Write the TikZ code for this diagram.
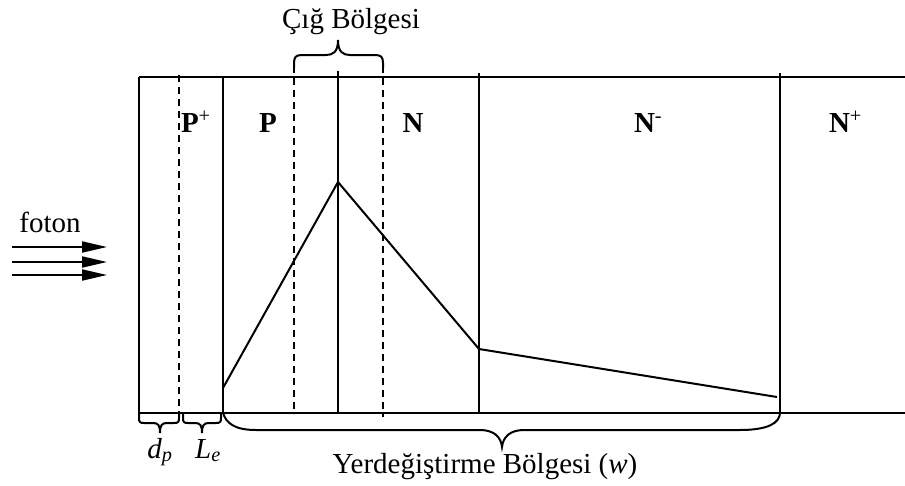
\documentclass[tikz,border=0pt]{standalone}
\usepackage{fontspec}
\setmainfont{Liberation Serif}
\usetikzlibrary{arrows.meta}
\begin{document}
\begin{tikzpicture}[x=1pt,y=-1pt,
  line width=2pt,
  dsh/.style={dash pattern=on 7pt off 5pt},
  lbl/.style={inner sep=0pt,font=\fontsize{29}{34}\selectfont},
  blbl/.style={inner sep=0pt,font=\fontsize{29}{34}\selectfont\bfseries},
  photon/.style={-{Triangle[length=25pt,width=11pt]}},
  brc/.style={line width=2pt}]
\useasboundingbox (0,0) rectangle (905,485);
% frame lines
\coordinate (tl) at (139,77);
\coordinate (tr) at (905,77);
\coordinate (bl) at (139,412.5);
\coordinate (br) at (905,412.5);
\draw (tl) -- (tr);
\draw (bl) -- (br);
\draw (tl) -- (bl);
% layer boundaries
\draw[dsh] (179,75) -- (179,412.5);
\draw (223,77) -- (223,412.5);
\draw[dsh] (294,66) -- (294,414);
\draw (338,71) -- (338,412.5);
\draw[dsh] (383,66) -- (383,417);
\draw (479,73) -- (479,412.5);
\draw (780,73) -- (780,412.5);
% labels
\node[blbl,anchor=base west] (pp) at (180,132) {P\textsuperscript{\mdseries+}};
\node[blbl,anchor=base] (p) at (268,132) {P};
\node[blbl,anchor=base] (n) at (413,132) {N};
\node[blbl,anchor=base west] (nm) at (633,132) {N\textsuperscript{\mdseries -}};
\node[blbl,anchor=base west] (np) at (828,132) {N\textsuperscript{\mdseries+}};
% field profile
\coordinate (f0) at (223,388);
\coordinate (f1) at (338,182);
\coordinate (f2) at (479,349);
\coordinate (f3) at (777,397);
\draw[line join=miter] (f0) -- (f1) -- (f2) -- (f3);
% top brace (avalanche region)
\draw[brc] (294,68) -- (294,63) .. controls (294,57) and (296,55) .. (302,55) -- (326,55)
  .. controls (333,55) and (338,52) .. (338,40)
  .. controls (338,52) and (343,55) .. (350,55) -- (375,55)
  .. controls (381,55) and (383,57) .. (383,63) -- (383,68);
\node[lbl,anchor=base] (cig) at (351,28) {Çığ Bölgesi};
% photon arrows
\node[lbl,anchor=base] (foton) at (50,232) {foton};
\coordinate (a1s) at (12,247); \coordinate (a1e) at (107,247);
\coordinate (a2s) at (12,262); \coordinate (a2e) at (107,262);
\coordinate (a3s) at (12,275); \coordinate (a3e) at (107,275);
\draw[photon] (a1s) -- (a1e);
\draw[photon] (a2s) -- (a2e);
\draw[photon] (a3s) -- (a3e);
% bottom small braces
\draw[brc] (139,413) -- (139,418) .. controls (139,422) and (140,423) .. (144,423) -- (153,423)
  .. controls (158,423) and (160,425) .. (160,433)
  .. controls (160,425) and (162,423) .. (167,423) -- (174,423)
  .. controls (178,423) and (179,422) .. (179,418) -- (179,413);
\draw[brc] (183,413) -- (183,418) .. controls (183,422) and (184,423) .. (188,423) -- (195,423)
  .. controls (200,423) and (202,425) .. (202,433)
  .. controls (202,425) and (204,423) .. (209,423) -- (216,423)
  .. controls (220,423) and (221,422) .. (221,418) -- (221,413);
\node[lbl,anchor=base,font=\fontsize{29}{34}\selectfont\itshape] (dp) at (160,458) {d\textsubscript{p}};
\node[lbl,anchor=base,font=\fontsize{29}{34}\selectfont\itshape] (le) at (208,458) {L\textsubscript{e}};
% big brace
\draw[brc] (223,412.5) .. controls (226,424) and (236,430) .. (256,430) -- (480,430)
  .. controls (494,430) and (501,437) .. (502,447)
  .. controls (503,437) and (510,430) .. (524,430) -- (740,430)
  .. controls (768,430) and (780,423) .. (780,412.5);
\node[lbl,anchor=base] (yb) at (485,473) {Yerdeğiştirme Bölgesi (\textit{w})};
\end{tikzpicture}
\end{document}
